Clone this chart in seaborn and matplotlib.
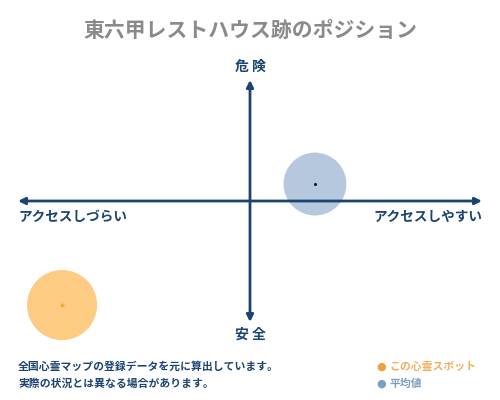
import matplotlib
matplotlib.use("Agg")
import matplotlib.pyplot as plt
import seaborn as sns
import pandas as pd

# position of spot and average on the access (x) / danger (y) scale, -1..1
labels = ["この心霊スポット", "平均値"]
x_access = [-0.81, 0.28]
y_danger = [-0.86, 0.14]
colors = ["#fdc46c", "#a9bfd9"]
center_colors = ["#f0a020", "#1a1a1a"]

title = "東六甲レストハウス跡のポジション"
top_label = "危 険"
bottom_label = "安 全"
left_label = "アクセスしづらい"
right_label = "アクセスしやすい"
note_lines = ["全国心霊マップの登録データを元に算出しています。",
              "実際の状況とは異なる場合があります。"]

sns.set_theme(style="white")
plt.rcParams["font.family"] = ["Noto Sans CJK JP", "DejaVu Sans"]

navy = "#1c4470"

df = pd.DataFrame({"x": x_access, "y": y_danger, "label": labels})

fig = plt.figure(figsize=(5, 4), dpi=100)
ax = fig.add_axes([0.036, 0.195, 0.928, 0.605])
ax.set_xlim(-1, 1)
ax.set_ylim(-1, 1)
ax.axis("off")

# circles
sns.scatterplot(data=df, x="x", y="y", hue="label", palette=colors,
                size="label", sizes={labels[0]: 2550, labels[1]: 2050},
                alpha=0.85, linewidth=0, legend=False, ax=ax, zorder=2,
                clip_on=False)
ax.scatter(df["x"][0], df["y"][0], marker="+", s=12, color=center_colors[0],
           zorder=4, linewidths=1, clip_on=False)
ax.scatter(df["x"][1], df["y"][1], marker="o", s=1.5, color=center_colors[1], zorder=4)

# axes arrows
arrow = dict(arrowstyle="<|-|>", color=navy, lw=2, mutation_scale=10, shrinkA=0, shrinkB=0)
ax.annotate("", xy=(0, 0.5), xytext=(1, 0.5), xycoords="axes fraction",
            arrowprops=arrow, zorder=3)
ax.annotate("", xy=(0.5, 0), xytext=(0.5, 1), xycoords="axes fraction",
            arrowprops=arrow, zorder=3)

fig.text(0.5, 0.925, title, ha="center", va="center", fontsize=15,
         fontweight="bold", color="#8a8a8a")
fig.text(0.5, 0.833, top_label, ha="center", va="center", fontsize=10,
         fontweight="bold", color=navy)
fig.text(0.5, 0.163, bottom_label, ha="center", va="center", fontsize=10,
         fontweight="bold", color=navy)
fig.text(0.036, 0.458, left_label, ha="left", va="center", fontsize=9.8,
         fontweight="bold", color=navy)
fig.text(0.964, 0.458, right_label, ha="right", va="center", fontsize=9.8,
         fontweight="bold", color=navy)

fig.text(0.036, 0.083, note_lines[0], ha="left", va="center", fontsize=7.8,
         fontweight="bold", color=navy)
fig.text(0.036, 0.04, note_lines[1], ha="left", va="center", fontsize=7.8,
         fontweight="bold", color=navy)

# legend
leg_dot_colors = ["#f0a040", "#7aa0c4"]
leg_text_colors = ["#f0b060", "#7a9cc0"]
for i, lab in enumerate(labels):
    yy = 0.083 - i * 0.043
    fig.text(0.762, yy, "●", ha="center", va="center", fontsize=8,
             color=leg_dot_colors[i], family="DejaVu Sans")
    fig.text(0.778, yy, lab, ha="left", va="center", fontsize=7.8,
             fontweight="bold", color=leg_text_colors[i])

fig.savefig("out.png", dpi=100, facecolor="white")
